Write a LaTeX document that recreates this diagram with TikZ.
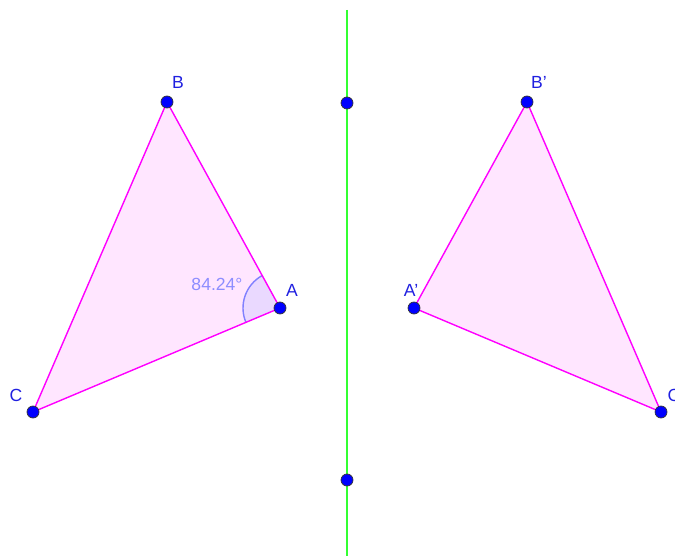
\documentclass[tikz,border=0pt]{standalone}
\usepackage{fontspec}
\setmainfont{Liberation Sans}
\usetikzlibrary{positioning}
\definecolor{ptblue}{HTML}{0000FF}
\definecolor{lblblue}{HTML}{2020E0}
\definecolor{magline}{HTML}{FF00FF}
\definecolor{magfill}{HTML}{FFE6FF}
\definecolor{axisgreen}{HTML}{33FF33}
\definecolor{anglefill}{HTML}{EAD9FF}
\definecolor{anglearc}{HTML}{8080FF}

\begin{document}
\begin{tikzpicture}[
  x=0.025cm, y=-0.025cm,
  pt/.style={circle, fill=ptblue, draw=black!80, line width=0.5pt, inner sep=0pt, minimum size=0.3cm},
  lbl/.style={text=lblblue, font=\fontsize{12.5}{14}\selectfont, inner sep=1pt},
  side/.style={magline, line width=1pt},
]

% Frame
\useasboundingbox (0,0) rectangle (675,556);
\clip (0,0) rectangle (675,556);

% Corner points
\coordinate (A) at (280,308);
\coordinate (B) at (167,102);
\coordinate (C) at (33,412);
\coordinate (A1) at (414,308);
\coordinate (B1) at (527,102);
\coordinate (C1) at (661,412);

% Triangles
\fill[magfill] (A) -- (B) -- (C) -- cycle;
\fill[magfill] (A1) -- (B1) -- (C1) -- cycle;

% Angle at A
\fill[anglefill] (A) -- ++(157.17:37) arc[start angle=157.17, end angle=241.25, radius=37] -- cycle;
\draw[anglearc, line width=1pt] (A) ++(157.17:37) arc[start angle=157.17, end angle=241.25, radius=37];
\node[text=anglearc!90, font=\fontsize{12.5}{14}\selectfont] (ang) at (217,284) {84.24°};

\draw[side] (A) -- (B) -- (C) -- cycle;
\draw[side] (A1) -- (B1) -- (C1) -- cycle;

% Mirror axis
\coordinate (top) at (347,10);
\coordinate (bot) at (347,556);
\draw[axisgreen, line width=1.2pt] (top) -- (bot);
\node[pt] (P) at (347,103) {};
\node[pt] (Q) at (347,480) {};

% Vertices
\node[pt] (a) at (A) {};
\node[pt] (b) at (B) {};
\node[pt] (c) at (C) {};
\node[pt] (a1) at (A1) {};
\node[pt] (b1) at (B1) {};
\node[pt] (c1) at (C1) {};

% Labels
\node[lbl] (la) at (292,290) {A};
\node[lbl] (lb) at (178,82) {B};
\node[lbl] (lc) at (16,395) {C};
\node[lbl] (la1) at (411,290) {A'};
\node[lbl] (lb1) at (539,82) {B'};
\node[lbl] (lc1) at (676,395) {C'};

\end{tikzpicture}
\end{document}
